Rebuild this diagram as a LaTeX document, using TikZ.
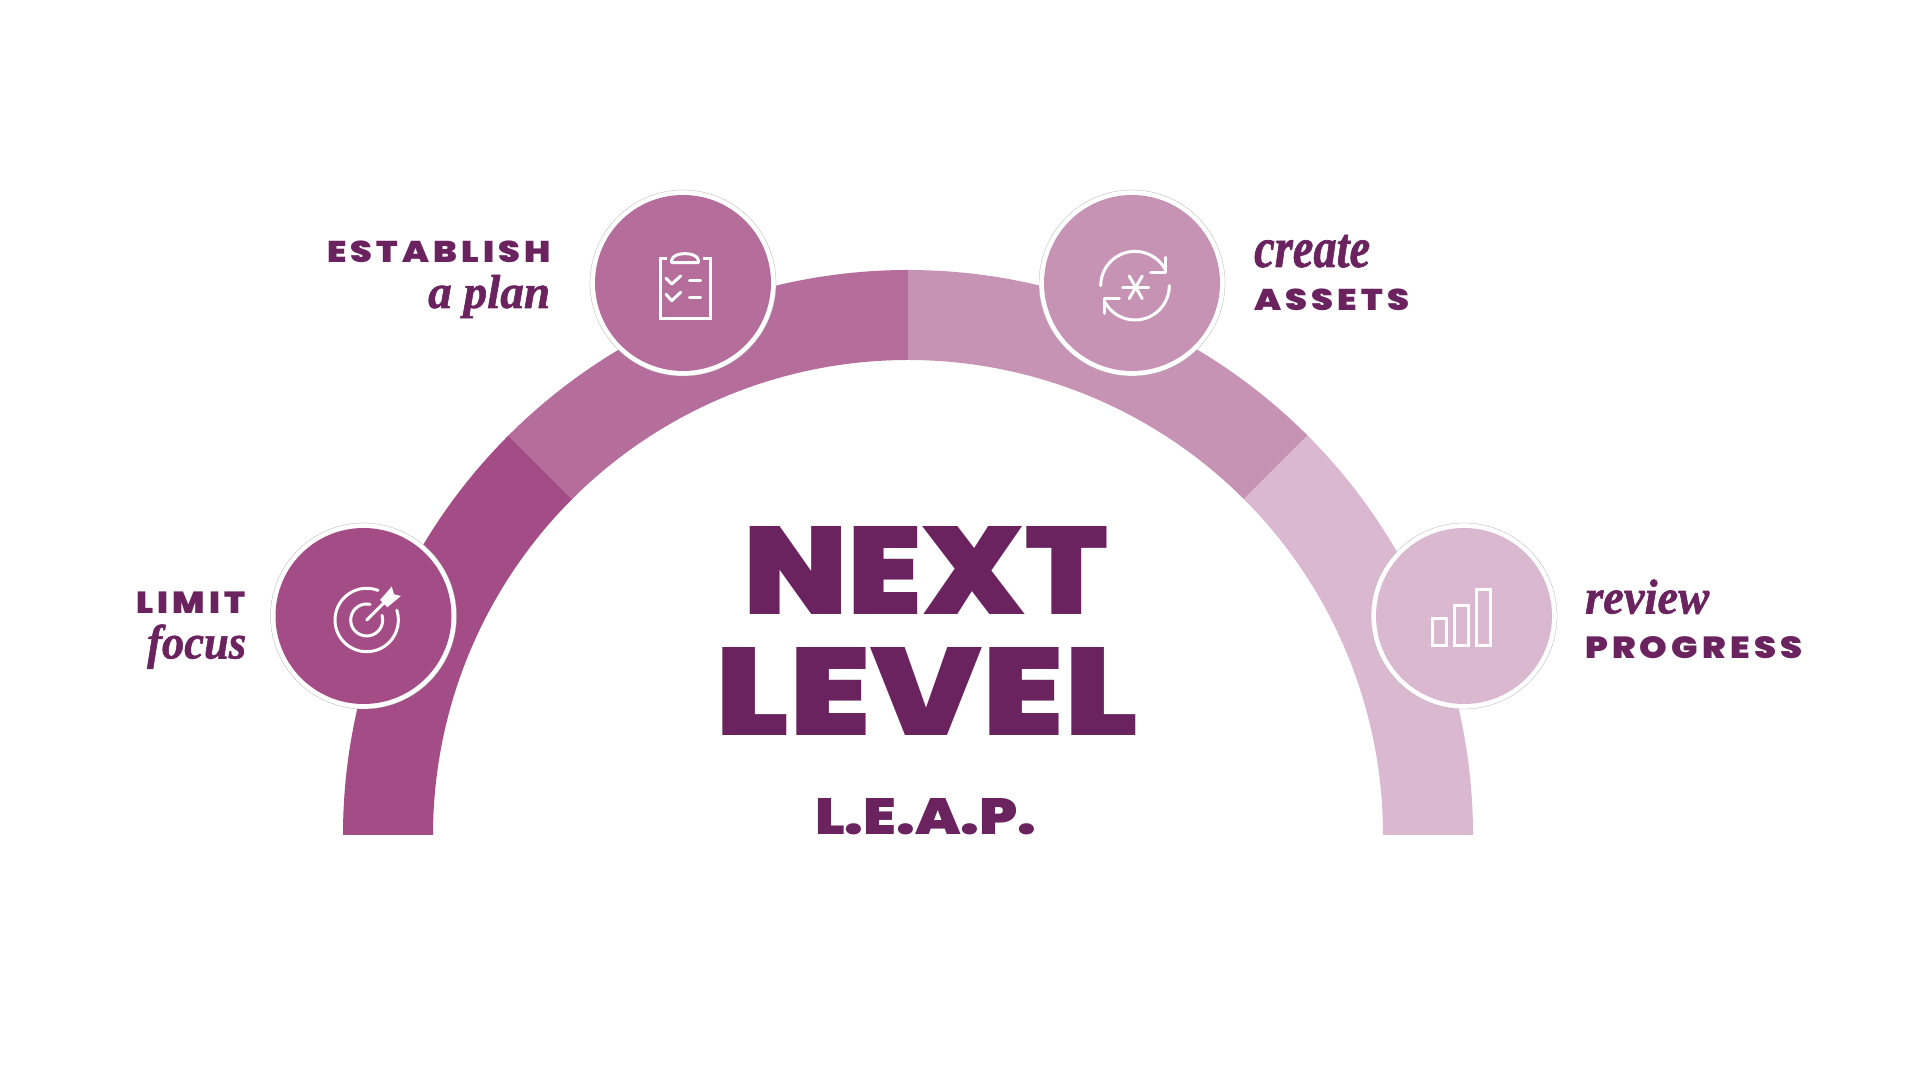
\documentclass[tikz,border=0pt]{standalone}
\usepackage{fontspec}
\usepackage{graphicx}
\setmainfont{Liberation Serif}
\newfontfamily\blk{Poppins Black}
\newfontfamily\blksp{Poppins Black}[LetterSpace=12]
\newfontfamily\ital{Liberation Serif Bold Italic}[FakeBold=1.2]
\definecolor{segA}{HTML}{A44C85}
\definecolor{segB}{HTML}{B56E9B}
\definecolor{segC}{HTML}{C693B5}
\definecolor{segD}{HTML}{DAB8D0}
\definecolor{ink}{HTML}{6B2360}
\newlength\pxu
\setlength\pxu{0.05cm}
\newcommand{\fitbox}[3]{\resizebox{#1\pxu}{#2\pxu}{#3}}
\tikzset{
  x=0.05cm,y=0.05cm,
  halo/.style={circle,fill=white,draw=black!35,line width=0.35pt,minimum size=9.3cm,inner sep=0pt},
  disc/.style={circle,minimum size=8.8cm,inner sep=0pt},
  txt/.style={anchor=base west,inner sep=0pt,text=ink},
  icon/.style={draw=white,line width=0.15cm,line cap=round,line join=round},
  iconbar/.style={draw=white,line width=0.15cm,line join=miter}
}
\begin{document}
\begin{tikzpicture}
\useasboundingbox[fill=white] (0,0) rectangle (1920,1080);
\coordinate (C) at (908,245);
% ring segments
\fill[segA] ([shift={(180:565)}]C) arc[start angle=180,end angle=135,radius=565]
  -- ([shift={(135:475)}]C) arc[start angle=135,end angle=180,radius=475] -- cycle;
\fill[segB] ([shift={(135:565)}]C) arc[start angle=135,end angle=90,radius=565]
  -- ([shift={(90:475)}]C) arc[start angle=90,end angle=135,radius=475] -- cycle;
\fill[segC] ([shift={(90:565)}]C) arc[start angle=90,end angle=45,radius=565]
  -- ([shift={(45:475)}]C) arc[start angle=45,end angle=90,radius=475] -- cycle;
\fill[segD] ([shift={(45:565)}]C) arc[start angle=45,end angle=0,radius=565]
  -- ([shift={(0:475)}]C) arc[start angle=0,end angle=45,radius=475] -- cycle;
% discs
\node[halo] (h1) at (363.5,464) {};
\node[disc,fill=segA] (d1) at (363.5,464) {};
\node[halo] (h2) at (683,797) {};
\node[disc,fill=segB] (d2) at (683,797) {};
\node[halo] (h3) at (1132,797) {};
\node[disc,fill=segC] (d3) at (1132,797) {};
\node[halo] (h4) at (1464,464) {};
\node[disc,fill=segD] (d4) at (1464,464) {};
% target icon
\coordinate (T) at (366.7,460);
\draw[icon] ([shift={(69:31.7)}]T) arc[start angle=69,end angle=378,radius=31.7];
\draw[icon] ([shift={(78:16)}]T) arc[start angle=78,end angle=377,radius=16];
\draw[icon] (T) -- (385,478.3);
\fill[white] (380,480) -- (385,485.7) -- (391.7,493.5) -- (394,485.7) -- (400.9,484) -- (394,478.3) -- (387.3,472.7) -- cycle;
% clipboard icon
\draw[iconbar] (666.7,821.7) -- (660,821.7) -- (660,761.7) -- (710,761.7) -- (710,821.7) -- (703.3,821.7);
\draw[icon] (671.7,817.3) -- (671.7,820) .. controls (673,828.5) and (697,828.5) .. (698.3,820) -- (698.3,817.3) -- cycle;
\draw[icon] (666,801.7) -- (671.7,796) -- (680.7,804);
\draw[icon] (666,785.7) -- (671.7,779.3) -- (680.7,787.7);
\draw[icon] (689.3,799) -- (700.7,799);
\draw[icon] (689.3,782.7) -- (700.7,782.7);
% refresh icon
\coordinate (R) at (1135,794.3);
\draw[icon] ([shift={(180:34.3)}]R) arc[start angle=180,end angle=27,radius=34.3];
\draw[icon] ([shift={(0:34.3)}]R) arc[start angle=0,end angle=-150,radius=34.3];
\draw[icon] (1150.7,807.7) -- (1165.7,807.7) -- (1165.7,822.7);
\draw[icon] (1119.3,781.7) -- (1104,781.7) -- (1104,766.7);
\coordinate (S) at (1135.7,792.7);
\draw[icon] ([shift={(0:13)}]S) -- ([shift={(180:13)}]S);
\draw[icon] ([shift={(60:13)}]S) -- ([shift={(240:13)}]S);
\draw[icon] ([shift={(120:13)}]S) -- ([shift={(300:13)}]S);
% bars icon
\draw[iconbar] (1432.2,434.5) rectangle (1446.5,461.7);
\draw[iconbar] (1454.3,434.5) rectangle (1468.3,474.3);
\draw[iconbar] (1476,434.5) rectangle (1490,490.7);
% central text
\node[txt] (next) at (743,465.7) {\fitbox{364.6}{88}{\blk NEXT}};
\node[txt] (level) at (715,344.3) {\fitbox{422.5}{88}{\blk LEVEL}};
\node[txt] (leap) at (815,245) {\fitbox{221.5}{36}{\blk L.E.A.P.}};
% side labels
\node[txt] (limit) at (136,466.7) {\fitbox{109}{21.6}{\blksp LIMIT}};
\node[txt] (focus) at (147,421.5) {\fitbox{99}{34}{\ital focus}};
\node[txt] (estab) at (327,817.7) {\fitbox{223.7}{21.6}{\blksp ESTABLISH}};
\node[txt] (plan) at (428,772) {\fitbox{122}{33}{\ital a plan}};
\node[txt] (create) at (1254,813) {\fitbox{116}{32}{\ital create}};
\node[txt] (assets) at (1254,769.3) {\fitbox{155}{21.6}{\blksp ASSETS}};
\node[txt] (review) at (1585,466.5) {\fitbox{124}{34}{\ital review}};
\node[txt] (progress) at (1585,421.3) {\fitbox{217}{22}{\blksp PROGRESS}};
\end{tikzpicture}
\end{document}
